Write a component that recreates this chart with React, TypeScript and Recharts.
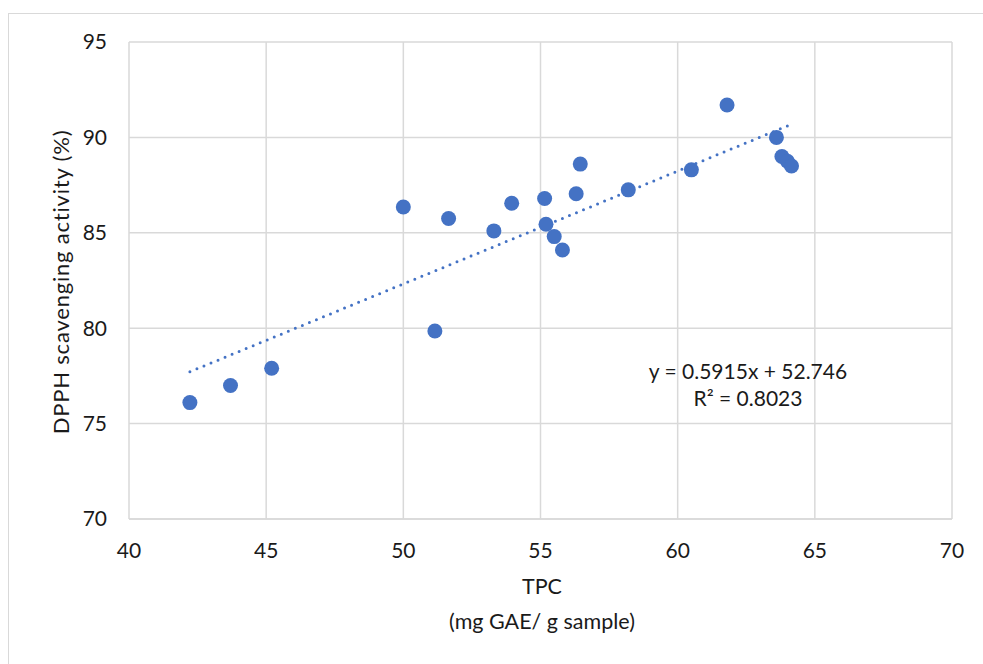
import { CartesianGrid, ComposedChart, Label, Scatter, XAxis, YAxis } from "recharts";

// TPC (mg GAE/g) and DPPH scavenging (%)
const tpc = [
  42.22, 43.7, 45.2, 50.0, 51.15, 51.65, 53.3, 53.95, 55.15, 55.2, 55.5,
  55.8, 56.3, 56.45, 58.2, 60.5, 61.8, 63.6, 63.8, 64.0, 64.15,
];
const dpph = [
  76.1, 77.0, 77.9, 86.35, 79.85, 85.75, 85.1, 86.55, 86.8, 85.45, 84.8,
  84.1, 87.05, 88.6, 87.25, 88.3, 91.7, 90.0, 89.0, 88.75, 88.5,
];

const xTicks = [40, 45, 50, 55, 60, 65, 70];
const yTicks = [70, 75, 80, 85, 90, 95];

// linear trendline shown on the chart
const slope = 0.5915;
const intercept = 52.746;
const equationText = "y = 0.5915x + 52.746";
const r2Text = "R² = 0.8023";

const points = tpc.map((x, i) => ({ x, y: dpph[i] }));
const trendX = [Math.min(...tpc), Math.max(...tpc)];
const trend = trendX.map((x) => ({ x, y: slope * x + intercept }));

const blue = "#4472C4";
const grid = "#d9d9d9";
const font = "Lato, 'Open Sans', sans-serif";
const textColor = "#1a1a1a";

export default function App() {
  return (
    <div
      style={{
        position: "absolute",
        left: 8,
        top: 13,
        width: 974,
        height: 650,
        borderLeft: `1px solid ${grid}`,
        borderTop: `1px solid ${grid}`,
        background: "#fff",
        fontFamily: font,
      }}
    >
      <ComposedChart
        width={974}
        height={650}
        margin={{ top: 28, right: 31, left: 0, bottom: 0 }}
      >
        <CartesianGrid stroke={grid} strokeWidth={1.5} />
        <XAxis
          dataKey="x"
          type="number"
          domain={[40, 70]}
          ticks={xTicks}
          height={145}
          axisLine={{ stroke: grid, strokeWidth: 1.5 }}
          tickLine={false}
          tickSize={0}
          tickMargin={24}
          tick={{ fontSize: 21, fill: textColor, fontFamily: font }}
        >
          <Label
            content={() => (
              <g>
                <text x={533} y={572} textAnchor="middle" dominantBaseline="central" fontSize={21.5} fill={textColor} fontFamily={font}>
                  TPC
                </text>
                <text x={533} y={607} textAnchor="middle" dominantBaseline="central" fontSize={21.5} fill={textColor} fontFamily={font}>
                  (mg GAE/ g sample)
                </text>
              </g>
            )}
          />
        </XAxis>
        <YAxis
          dataKey="y"
          type="number"
          domain={[70, 95]}
          ticks={yTicks}
          width={120}
          axisLine={false}
          tickLine={false}
          tickSize={0}
          tickMargin={22}
          tick={{ fontSize: 21, fill: textColor, fontFamily: font }}
        >
          <Label
            content={() => (
              <text
                x={51}
                y={268}
                transform="rotate(-90 51 268)"
                textAnchor="middle"
                dominantBaseline="central"
                fontSize={22}
                letterSpacing={0.8}
                fill={textColor}
                fontFamily={font}
              >
                DPPH scavenging activity (%)
              </text>
            )}
          />
        </YAxis>
        <Scatter
          data={trend}
          isAnimationActive={false}
          shape={() => <g />}
          line={{
            stroke: blue,
            strokeWidth: 3,
            strokeDasharray: "0 7.6",
            strokeLinecap: "round",
          }}
        />
        <Scatter
          data={points}
          isAnimationActive={false}
          shape={(p: any) => <circle cx={p.cx} cy={p.cy} r={7.5} fill={blue} />}
        />
      </ComposedChart>
      <div
        style={{
          position: "absolute",
          left: 739 - 150,
          top: 343,
          width: 300,
          textAlign: "center",
          fontSize: 21,
          lineHeight: "27px",
          color: textColor,
        }}
      >
        <div>{equationText}</div>
        <div>{r2Text}</div>
      </div>
    </div>
  );
}
